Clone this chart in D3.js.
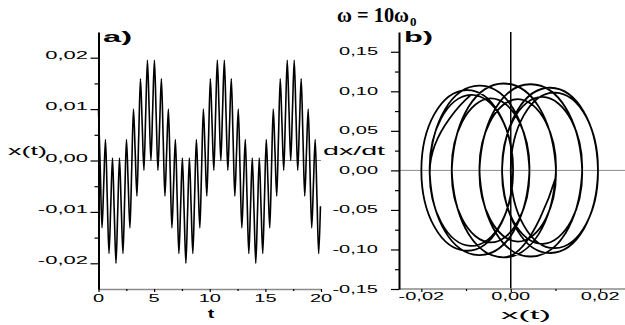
<!DOCTYPE html>
<html><head><meta charset="utf-8">
<script src="https://cdn.jsdelivr.net/npm/d3@7"></script>
<style>
body{margin:0;background:#fff}
svg{display:block}
text{font-family:"Liberation Sans",Arial,sans-serif;fill:#000}
</style>
</head><body>
<svg id="chart" width="625" height="325"></svg>
<script>
// ---- data (quarter-period samples of the motion) ----
const time = [
 0.000,0.157,0.314,0.471,0.628,0.785,0.942,1.100,1.257,1.414,
 1.571,1.728,1.885,2.042,2.199,2.356,2.513,2.670,2.827,2.985,
 3.142,3.299,3.456,3.613,3.770,3.927,4.084,4.241,4.398,4.555,
 4.712,4.869,5.027,5.184,5.341,5.498,5.655,5.812,5.969,6.126,
 6.283,6.440,6.597,6.754,6.912,7.069,7.226,7.383,7.540,7.697,
 7.854,8.011,8.168,8.325,8.482,8.639,8.796,8.954,9.111,9.268,
 9.425,9.582,9.739,9.896,10.053,10.210,10.367,10.524,10.681,10.838,
 10.996,11.153,11.310,11.467,11.624,11.781,11.938,12.095,12.252,12.409,
 12.566,12.723,12.881,13.038,13.195,13.352,13.509,13.666,13.823,13.980,
 14.137,14.294,14.451,14.608,14.765,14.923,15.080,15.237,15.394,15.551,
 15.708,15.865,16.022,16.179,16.336,16.493,16.650,16.808,16.965,17.122,
 17.279,17.436,17.593,17.750,17.907,18.064,18.221,18.378,18.535,18.692,
 18.850,19.007,19.164,19.321,19.478,19.635,19.792,19.949
];
const position = [
 0.0100,-0.0016,-0.0131,-0.0045,0.0041,-0.0071,-0.0181,-0.0089,0.0005,-0.0099,
 -0.0200,-0.0099,0.0005,-0.0089,-0.0181,-0.0071,0.0041,-0.0045,-0.0131,-0.0016,
 0.0100,0.0016,-0.0069,0.0045,0.0159,0.0071,-0.0019,0.0089,0.0195,0.0099,
 0.0000,0.0099,0.0195,0.0089,-0.0019,0.0071,0.0159,0.0045,-0.0069,0.0016,
 0.0100,-0.0016,-0.0131,-0.0045,0.0041,-0.0071,-0.0181,-0.0089,0.0005,-0.0099,
 -0.0200,-0.0099,0.0005,-0.0089,-0.0181,-0.0071,0.0041,-0.0045,-0.0131,-0.0016,
 0.0100,0.0016,-0.0069,0.0045,0.0159,0.0071,-0.0019,0.0089,0.0195,0.0099,
 0.0000,0.0099,0.0195,0.0089,-0.0019,0.0071,0.0159,0.0045,-0.0069,0.0016,
 0.0100,-0.0016,-0.0131,-0.0045,0.0041,-0.0071,-0.0181,-0.0089,0.0005,-0.0099,
 -0.0200,-0.0099,0.0005,-0.0089,-0.0181,-0.0071,0.0041,-0.0045,-0.0131,-0.0016,
 0.0100,0.0016,-0.0069,0.0045,0.0159,0.0071,-0.0019,0.0089,0.0195,0.0099,
 0.0000,0.0099,0.0195,0.0089,-0.0019,0.0071,0.0159,0.0045,-0.0069,0.0016,
 0.0100,-0.0016,-0.0131,-0.0045,0.0041,-0.0071,-0.0181,-0.0089
];
const velocity = [
 -0.0100,-0.1099,-0.0095,0.0911,-0.0081,-0.1071,-0.0059,0.0955,-0.0031,-0.1016,
 0.0000,0.1016,0.0031,-0.0955,0.0059,0.1071,0.0081,-0.0911,0.0095,0.1099,
 0.0100,-0.0901,0.0095,0.1089,0.0081,-0.0929,0.0059,0.1045,0.0031,-0.0984,
 0.0000,0.0984,-0.0031,-0.1045,-0.0059,0.0929,-0.0081,-0.1089,-0.0095,0.0901,
 -0.0100,-0.1099,-0.0095,0.0911,-0.0081,-0.1071,-0.0059,0.0955,-0.0031,-0.1016,
 0.0000,0.1016,0.0031,-0.0955,0.0059,0.1071,0.0081,-0.0911,0.0095,0.1099,
 0.0100,-0.0901,0.0095,0.1089,0.0081,-0.0929,0.0059,0.1045,0.0031,-0.0984,
 0.0000,0.0984,-0.0031,-0.1045,-0.0059,0.0929,-0.0081,-0.1089,-0.0095,0.0901,
 -0.0100,-0.1099,-0.0095,0.0911,-0.0081,-0.1071,-0.0059,0.0955,-0.0031,-0.1016,
 0.0000,0.1016,0.0031,-0.0955,0.0059,0.1071,0.0081,-0.0911,0.0095,0.1099,
 0.0100,-0.0901,0.0095,0.1089,0.0081,-0.0929,0.0059,0.1045,0.0031,-0.0984,
 0.0000,0.0984,-0.0031,-0.1045,-0.0059,0.0929,-0.0081,-0.1089,-0.0095,0.0901,
 -0.0100,-0.1099,-0.0095,0.0911,-0.0081,-0.1071,-0.0059,0.0955
];

// ---- ticks ----
const tTicks = [0, 5, 10, 15, 20];
const tMinor = [2.5, 7.5, 12.5, 17.5];
const xTicks = [-0.02, -0.01, 0, 0.01, 0.02];
const xMinor = [-0.015, -0.005, 0.005, 0.015];
const vTicks = [-0.15, -0.10, -0.05, 0, 0.05, 0.10, 0.15];
const vMinor = [-0.125, -0.075, -0.025, 0.025, 0.075, 0.125];
const phaseXTicks = [-0.02, 0, 0.02];
const phaseXMinor = [-0.01, 0.01];

// ---- texts ----
const titleMain = "ω = 10ω";
const titleSub = "0";
const panelLabels = ["a)", "b)"];
const axisTitles = { leftY: "x(t)", leftX: "t", rightY: "dx/dt", rightX: "x(t)" };

const fmt = d3.formatLocale({decimal: ",", thousands: ".", grouping: [3], currency: ["", ""], minus: "-"}).format(".2f");

const svg = d3.select("#chart");

const xL = d3.scaleLinear().domain([0, 20]).range([98.5, 321]);
const yL = d3.scaleLinear().domain([-0.025, 0.025]).range([289, 32]);
const xR = d3.scaleLinear().domain([-0.025, 0.025]).range([399, 622.5]);
const yR = d3.scaleLinear().domain([-0.15, 0.175]).range([289, 32]);

const grey = "#8a8a8a";

function styleAxis(g, lineColor, lineW) {
  g.select(".domain").attr("stroke", lineColor).attr("stroke-width", lineW);
  g.selectAll(".tick line").attr("stroke", "#000").attr("stroke-width", 1.2);
  g.selectAll(".tick text").remove();
}

function stretchedText(parent, x, y, str, opts) {
  const t = parent.append("text")
    .attr("transform", `translate(${x},${y}) scale(${opts.sx || 1},1)`)
    .attr("text-anchor", opts.anchor || "start")
    .attr("font-size", opts.size || 10)
    .attr("font-weight", opts.weight || "normal")
    .text(str);
  if (opts.family) t.style("font-family", opts.family);
  return t;
}

// ===== LEFT PANEL =====
const gL = svg.append("g");
gL.append("line").attr("x1", xL(0)).attr("x2", xL(20)).attr("y1", yL(0)).attr("y2", yL(0))
  .attr("stroke", grey).attr("stroke-width", 1);

gL.append("path")
  .datum(d3.range(time.length))
  .attr("fill", "none").attr("stroke", "#000").attr("stroke-width", 1.6)
  .attr("stroke-linejoin", "round")
  .attr("d", d3.line().x(i => xL(time[i])).y(i => yL(position[i])).curve(d3.curveMonotoneX));

const axLx = gL.append("g").attr("transform", `translate(0,${yL(-0.025)})`)
  .call(d3.axisBottom(xL).tickValues(tTicks).tickSize(3).tickSizeOuter(0));
styleAxis(axLx, grey, 1.5);
const axLxm = gL.append("g").attr("transform", `translate(0,${yL(-0.025)})`)
  .call(d3.axisBottom(xL).tickValues(tMinor).tickSize(2).tickSizeOuter(0));
styleAxis(axLxm, grey, 0);
axLxm.select(".domain").remove();

const axLy = gL.append("g").attr("transform", `translate(${xL(0)},0)`)
  .call(d3.axisLeft(yL).tickValues(xTicks).tickSize(8).tickSizeOuter(0));
styleAxis(axLy, "#000", 2);
const axLym = gL.append("g").attr("transform", `translate(${xL(0)},0)`)
  .call(d3.axisLeft(yL).tickValues(xMinor).tickSize(4).tickSizeOuter(0));
styleAxis(axLym, "#000", 0);
axLym.select(".domain").remove();

xTicks.forEach(v => stretchedText(gL, 88, yL(v) + 1, fmt(v), {anchor: "end", size: 10, sx: 2.2}));
tTicks.forEach(v => stretchedText(gL, xL(v), 302, String(v), {anchor: "middle", size: 10, sx: 2.0}));

gL.append("text").attr("x", 8).attr("y", 155).attr("font-size", 13)
  .attr("textLength", 39).attr("lengthAdjust", "spacingAndGlyphs").text(axisTitles.leftY);
stretchedText(gL, 211, 318, axisTitles.leftX, {anchor: "middle", size: 13, weight: "bold", sx: 1.5});
gL.append("text").attr("x", 103).attr("y", 42).attr("font-size", 14).attr("font-weight", "bold")
  .attr("textLength", 29).attr("lengthAdjust", "spacingAndGlyphs").text(panelLabels[0]);

// ===== RIGHT PANEL =====
const gR = svg.append("g");
gR.append("line").attr("x1", xR(-0.025)).attr("x2", 625).attr("y1", yR(0)).attr("y2", yR(0))
  .attr("stroke", grey).attr("stroke-width", 1);

gR.append("path")
  .datum(d3.range(position.length))
  .attr("fill", "none").attr("stroke", "#000").attr("stroke-width", 1.8)
  .attr("d", d3.line().x(i => xR(position[i])).y(i => yR(velocity[i])).curve(d3.curveCardinal.tension(-0.65)));

gR.append("line").attr("x1", xR(0)).attr("x2", xR(0)).attr("y1", yR(0.175)).attr("y2", yR(-0.15))
  .attr("stroke", "#000").attr("stroke-width", 1.5);

const axRx = gR.append("g").attr("transform", `translate(0,${yR(-0.15)})`)
  .call(d3.axisBottom(xR).tickValues(phaseXTicks).tickSize(3).tickSizeOuter(0));
styleAxis(axRx, grey, 1.5);
axRx.select(".domain").attr("d", `M${xR(-0.025)},0H625`);
const axRxm = gR.append("g").attr("transform", `translate(0,${yR(-0.15)})`)
  .call(d3.axisBottom(xR).tickValues(phaseXMinor).tickSize(2).tickSizeOuter(0));
styleAxis(axRxm, grey, 0);
axRxm.select(".domain").remove();

const axRy = gR.append("g").attr("transform", `translate(${xR(-0.025)},0)`)
  .call(d3.axisLeft(yR).tickValues(vTicks).tickSize(8).tickSizeOuter(0));
styleAxis(axRy, "#000", 2);
const axRym = gR.append("g").attr("transform", `translate(${xR(-0.025)},0)`)
  .call(d3.axisLeft(yR).tickValues(vMinor).tickSize(4).tickSizeOuter(0));
styleAxis(axRym, "#000", 0);
axRym.select(".domain").remove();

vTicks.forEach(v => stretchedText(gR, 378, yR(v) + 3.5, fmt(v), {anchor: "end", size: 10, sx: 2.0}));
phaseXTicks.forEach(v => stretchedText(gR, xR(v), 300, fmt(v), {anchor: "middle", size: 10, sx: 2.0}));

gR.append("text").attr("x", 323).attr("y", 155).attr("font-size", 13)
  .attr("textLength", 62).attr("lengthAdjust", "spacingAndGlyphs").text(axisTitles.rightY);
gR.append("text").attr("x", 501).attr("y", 319).attr("font-size", 13)
  .attr("textLength", 50).attr("lengthAdjust", "spacingAndGlyphs").text(axisTitles.rightX);
gR.append("text").attr("x", 404).attr("y", 42).attr("font-size", 14).attr("font-weight", "bold")
  .attr("textLength", 29).attr("lengthAdjust", "spacingAndGlyphs").text(panelLabels[1]);

// ===== TITLE =====
const serif = "'Liberation Serif','Times New Roman',serif";
svg.append("text").attr("x", 337).attr("y", 22)
  .style("font-family", serif).attr("font-size", 21).attr("font-weight", "bold")
  .attr("textLength", 72).attr("lengthAdjust", "spacingAndGlyphs").text(titleMain);
svg.append("text").attr("x", 410).attr("y", 26)
  .style("font-family", serif).attr("font-size", 13).attr("font-weight", "bold")
  .text(titleSub);
</script>
</body></html>
